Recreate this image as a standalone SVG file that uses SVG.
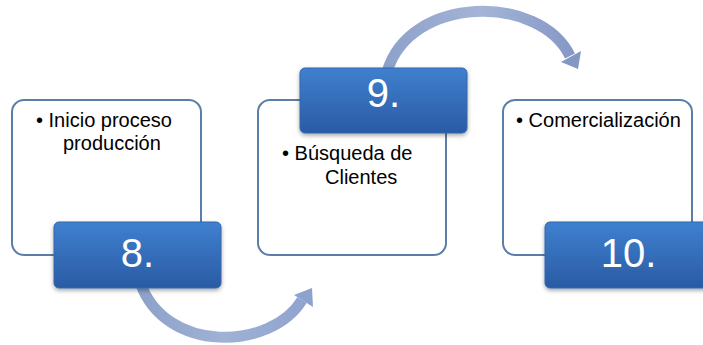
<svg xmlns="http://www.w3.org/2000/svg" width="703" height="345" viewBox="0 0 703 345">
<defs>
<linearGradient id="blue" x1="0" y1="0" x2="0" y2="1">
<stop offset="0" stop-color="#3f80cf"/>
<stop offset="1" stop-color="#2a5ba4"/>
</linearGradient>
<linearGradient id="arrowA" gradientUnits="userSpaceOnUse" x1="140" y1="280" x2="315" y2="290">
<stop offset="0" stop-color="#8ea1c9"/>
<stop offset="0.5" stop-color="#9fb1d5"/>
<stop offset="1" stop-color="#8ea2cf"/>
</linearGradient>
<linearGradient id="arrowB" gradientUnits="userSpaceOnUse" x1="385" y1="70" x2="580" y2="70">
<stop offset="0" stop-color="#8ea1c9"/>
<stop offset="0.5" stop-color="#a3b4d6"/>
<stop offset="1" stop-color="#8396c4"/>
</linearGradient>
<filter id="sh" x="-10%" y="-10%" width="120%" height="130%">
<feDropShadow dx="0" dy="2" stdDeviation="2" flood-color="#000" flood-opacity="0.35"/>
</filter>
</defs>
<style>
.card{fill:#fff;stroke:#5a7ea8;stroke-width:2}
.num{fill:url(#blue);stroke:#3567ad;stroke-width:1;filter:url(#sh)}
.numtxt{font-family:"Liberation Sans",Arial,sans-serif;font-size:40px;fill:#fff;text-anchor:middle}
.txt{font-family:"Liberation Sans",Arial,sans-serif;font-size:20px;fill:#000}
</style>
<g id="connectors">
<path d="M140 282 C165 355 272 350 302 300" fill="none" stroke="url(#arrowA)" stroke-width="11"/>
<polygon points="312,288 294,295 313,307" fill="#8ea2cf"/>
<path d="M387 72 C410 -6 540 -6 570 56" fill="none" stroke="url(#arrowB)" stroke-width="11"/>
<polygon points="578,69 561,62 581,51" fill="#8396c4"/>
</g>
<g id="node8">
<rect class="card" x="12" y="100" width="189" height="155" rx="12"/>
<text class="txt" x="36" y="127">• Inicio proceso</text>
<text class="txt" x="63" y="150">producción</text>
<rect class="num" x="54" y="222" width="167" height="66" rx="5"/>
<text class="numtxt" x="137.5" y="267">8.</text>
</g>
<g id="node9">
<rect class="card" x="258" y="100" width="188" height="155" rx="12"/>
<rect class="num" x="300" y="68" width="167" height="65" rx="5"/>
<text class="numtxt" x="383.5" y="107">9.</text>
<text class="txt" x="282" y="160">• Búsqueda de</text>
<text class="txt" x="325" y="184">Clientes</text>
</g>
<g id="node10">
<rect class="card" x="503" y="100" width="189" height="155" rx="12"/>
<text class="txt" x="516" y="127">• Comercialización</text>
<rect class="num" x="545" y="222" width="167" height="66" rx="5"/>
<text class="numtxt" x="628.5" y="267">10.</text>
</g>
</svg>
